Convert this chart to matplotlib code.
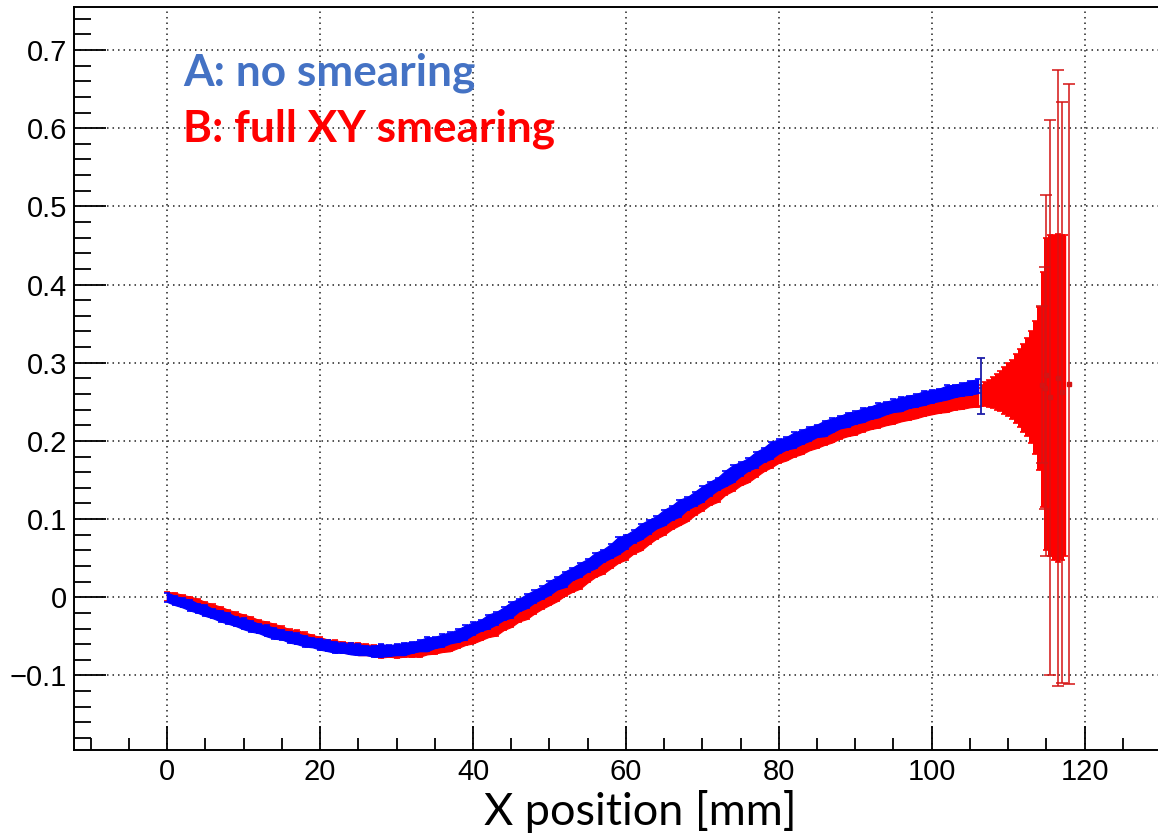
import numpy as np
import matplotlib.pyplot as plt
from matplotlib.ticker import MultipleLocator, FuncFormatter

# ---- data (1 mm bins) ----
blue_x = np.arange(0, 107)
blue_y = [0.000, -0.004, -0.007, -0.010, -0.014, -0.017, -0.021, -0.024, -0.027, -0.031,
          -0.034, -0.037, -0.040, -0.043, -0.046, -0.048, -0.051, -0.053, -0.056, -0.058,
          -0.060, -0.062, -0.064, -0.065, -0.066, -0.067, -0.068, -0.069, -0.068, -0.068,
          -0.067, -0.066, -0.064, -0.062, -0.060, -0.058, -0.055, -0.052, -0.049, -0.045,
          -0.040, -0.036, -0.031, -0.027, -0.021, -0.016, -0.010, -0.005, 0.001, 0.006,
          0.012, 0.018, 0.023, 0.030, 0.035, 0.041, 0.047, 0.053, 0.059, 0.066,
          0.071, 0.078, 0.084, 0.090, 0.096, 0.102, 0.108, 0.114, 0.120, 0.126,
          0.132, 0.139, 0.145, 0.152, 0.158, 0.164, 0.170, 0.176, 0.182, 0.188,
          0.193, 0.197, 0.201, 0.205, 0.209, 0.213, 0.216, 0.220, 0.224, 0.227,
          0.230, 0.233, 0.236, 0.239, 0.242, 0.245, 0.247, 0.250, 0.252, 0.255,
          0.257, 0.259, 0.262, 0.264, 0.266, 0.268, 0.270]
blue_err = [0.006, 0.006, 0.006, 0.007, 0.006, 0.007, 0.006, 0.007, 0.007, 0.006,
            0.007, 0.007, 0.006, 0.007, 0.007, 0.006, 0.007, 0.007, 0.007, 0.006,
            0.007, 0.007, 0.007, 0.006, 0.007, 0.007, 0.006, 0.007, 0.008, 0.007,
            0.007, 0.008, 0.007, 0.007, 0.009, 0.007, 0.008, 0.007, 0.008, 0.009,
            0.008, 0.007, 0.009, 0.008, 0.008, 0.010, 0.008, 0.009, 0.008, 0.008,
            0.009, 0.008, 0.010, 0.008, 0.009, 0.008, 0.010, 0.008, 0.009, 0.011,
            0.009, 0.008, 0.010, 0.009, 0.008, 0.010, 0.009, 0.011, 0.008, 0.009,
            0.010, 0.009, 0.008, 0.010, 0.011, 0.009, 0.008, 0.010, 0.009, 0.011,
            0.009, 0.008, 0.010, 0.009, 0.009, 0.008, 0.010, 0.009, 0.008, 0.009,
            0.008, 0.009, 0.008, 0.009, 0.008, 0.008, 0.009, 0.008, 0.008, 0.009,
            0.008, 0.008, 0.009, 0.008, 0.008, 0.009, 0.009]
# last blue bin with its large error
blue_last_x = [106.5]
blue_last_y = [0.2705]
blue_last_err = [0.036]

red_x = np.arange(0, 107)
red_y = [0.001, -0.001, -0.003, -0.006, -0.009, -0.012, -0.016, -0.019, -0.022, -0.026,
         -0.029, -0.032, -0.035, -0.038, -0.041, -0.044, -0.047, -0.049, -0.052, -0.055,
         -0.058, -0.060, -0.062, -0.064, -0.065, -0.066, -0.067, -0.068, -0.069, -0.069,
         -0.069, -0.069, -0.068, -0.067, -0.066, -0.064, -0.062, -0.060, -0.057, -0.054,
         -0.050, -0.047, -0.043, -0.039, -0.034, -0.029, -0.023, -0.018, -0.012, -0.007,
         -0.001, 0.005, 0.010, 0.016, 0.022, 0.028, 0.034, 0.040, 0.046, 0.052,
         0.058, 0.065, 0.071, 0.077, 0.083, 0.090, 0.096, 0.102, 0.108, 0.114,
         0.121, 0.127, 0.133, 0.140, 0.146, 0.152, 0.158, 0.164, 0.170, 0.176,
         0.181, 0.185, 0.189, 0.193, 0.197, 0.201, 0.204, 0.208, 0.212, 0.215,
         0.218, 0.221, 0.224, 0.227, 0.229, 0.232, 0.234, 0.237, 0.239, 0.241,
         0.244, 0.246, 0.248, 0.250, 0.252, 0.254, 0.256]
red_err = [0.006, 0.007, 0.006, 0.007, 0.007, 0.006, 0.007, 0.007, 0.006, 0.007,
           0.007, 0.007, 0.006, 0.007, 0.007, 0.007, 0.006, 0.007, 0.007, 0.007,
           0.007, 0.006, 0.007, 0.007, 0.007, 0.008, 0.007, 0.007, 0.008, 0.007,
           0.008, 0.007, 0.008, 0.009, 0.007, 0.008, 0.008, 0.009, 0.008, 0.007,
           0.009, 0.008, 0.008, 0.010, 0.008, 0.009, 0.008, 0.010, 0.009, 0.008,
           0.009, 0.010, 0.008, 0.009, 0.011, 0.009, 0.008, 0.010, 0.009, 0.008,
           0.010, 0.009, 0.011, 0.009, 0.008, 0.010, 0.009, 0.010, 0.011, 0.009,
           0.010, 0.009, 0.011, 0.009, 0.010, 0.009, 0.011, 0.010, 0.009, 0.010,
           0.009, 0.010, 0.009, 0.010, 0.009, 0.010, 0.009, 0.010, 0.009, 0.009,
           0.010, 0.009, 0.009, 0.010, 0.009, 0.010, 0.009, 0.010, 0.010, 0.009,
           0.010, 0.010, 0.011, 0.010, 0.011, 0.011, 0.012]
# red tail beyond the blue end (0.5 mm bins)
red_tail_x = [106.5, 107.0, 107.5, 108.0, 108.5, 109.0, 109.5, 110.0, 110.5, 111.0, 111.5,
              112.0, 112.5, 113.0, 113.5, 114.0, 114.5, 115.0, 115.5, 116.0, 116.5, 117.0, 117.5]
red_tail_y = [0.258, 0.260, 0.261, 0.262, 0.263, 0.264, 0.265, 0.266, 0.266, 0.267, 0.268,
              0.268, 0.269, 0.269, 0.268, 0.267, 0.266, 0.260, 0.258, 0.256, 0.255, 0.256, 0.258]
red_tail_err = [0.013, 0.015, 0.017, 0.020, 0.023, 0.026, 0.030, 0.034, 0.038, 0.044, 0.050,
                0.056, 0.063, 0.072, 0.085, 0.104, 0.150, 0.200, 0.205, 0.208, 0.210, 0.208, 0.205]
# isolated wide error bars at the far end
red_spike_x = [114.4, 114.8, 115.0, 115.5, 116.5, 117.1, 118.0]
red_spike_y = [0.272, 0.268, 0.284, 0.256, 0.281, 0.262, 0.273]
red_spike_err = [0.100, 0.155, 0.231, 0.355, 0.394, 0.371, 0.384]

BLUE = '#0000ff'
RED = '#ff0000'

plt.rcParams['font.family'] = ['Liberation Sans', 'DejaVu Sans']

fig = plt.figure(figsize=(11.58, 8.35), dpi=100)
W, H = 1158, 835
ax = fig.add_axes([74 / W, 1 - 750 / H, (1161 - 74) / W, (750 - 7) / H])

# red series (below)
ry = np.array(red_y)
re = np.array(red_err)
ax.fill_between(red_x, ry - re, ry + re, color=RED, lw=0.8, edgecolor=RED, zorder=2)
ax.errorbar(red_x, red_y, yerr=red_err, fmt='none', ecolor=RED, elinewidth=1,
            capsize=2.5, capthick=1.2, zorder=2)
ty = np.array(red_tail_y)
te = np.array(red_tail_err)
ax.fill_between(red_tail_x, ty - te, ty + te, step='mid', color=RED, lw=0, zorder=2)
ax.errorbar(red_tail_x, red_tail_y, yerr=red_tail_err, fmt='none', ecolor=RED,
            elinewidth=1, capsize=2.5, capthick=1.2, zorder=2)
ax.errorbar(red_spike_x, red_spike_y, yerr=red_spike_err, fmt='s', ms=3,
            color='#d41414', ecolor='#d41414', elinewidth=1.1, capsize=4,
            capthick=1.1, zorder=2.5)

# blue series (on top)
by = np.array(blue_y)
be = np.array(blue_err)
ax.fill_between(blue_x, by - be, by + be, color=BLUE, lw=0.8, edgecolor=BLUE, zorder=3)
ax.errorbar(blue_x, blue_y, yerr=blue_err, fmt='none', ecolor=BLUE, elinewidth=1,
            capsize=2.5, capthick=1.2, zorder=3)
ax.errorbar(blue_last_x, blue_last_y, yerr=blue_last_err, fmt='none',
            ecolor='#1c1ca8', elinewidth=1.3, capsize=3, capthick=1.3, zorder=4)

ax.set_xlim(-12.2, 130)
ax.set_ylim(-0.1953, 0.755)

ax.xaxis.set_major_locator(MultipleLocator(20))
ax.xaxis.set_minor_locator(MultipleLocator(5))
ax.yaxis.set_major_locator(MultipleLocator(0.1))
ax.yaxis.set_minor_locator(MultipleLocator(0.02))
fmt = FuncFormatter(lambda v, p: f"{v:.10g}".replace('-', '\u2212') if abs(v) > 1e-9 else '0')
ax.xaxis.set_major_formatter(fmt)
ax.yaxis.set_major_formatter(fmt)

ax.tick_params(axis='both', which='both', direction='in', width=1.3,
               top=False, right=False, labelsize=21, colors='black')
ax.tick_params(axis='y', which='major', length=23, pad=5)
ax.tick_params(axis='y', which='minor', length=12)
ax.tick_params(axis='x', which='major', length=17, pad=6)
ax.tick_params(axis='x', which='minor', length=9)
for s in ax.spines.values():
    s.set_linewidth(1.4)

ax.grid(which='major', color='#222222', linestyle=(0, (1, 2.6)), linewidth=1.1, zorder=1)
ax.set_axisbelow(True)

# annotations
fig.text(183 / W, 1 - 85.7 / H, 'A: no smearing', color='#4472c4', fontsize=31.8,
         fontweight='bold', family=['Lato', 'DejaVu Sans'], va='baseline', ha='left')
fig.text(183 / W, 1 - 141.7 / H, 'B: full XY smearing', color=RED, fontsize=31.8,
         fontweight='bold', family=['Lato', 'DejaVu Sans'], va='baseline', ha='left')
fig.text(640 / W, 1 - 825 / H, 'X position [mm]', color='black', fontsize=32.5,
         family=['Lato', 'DejaVu Sans'], va='baseline', ha='center')

fig.savefig('out.png', dpi=100)
